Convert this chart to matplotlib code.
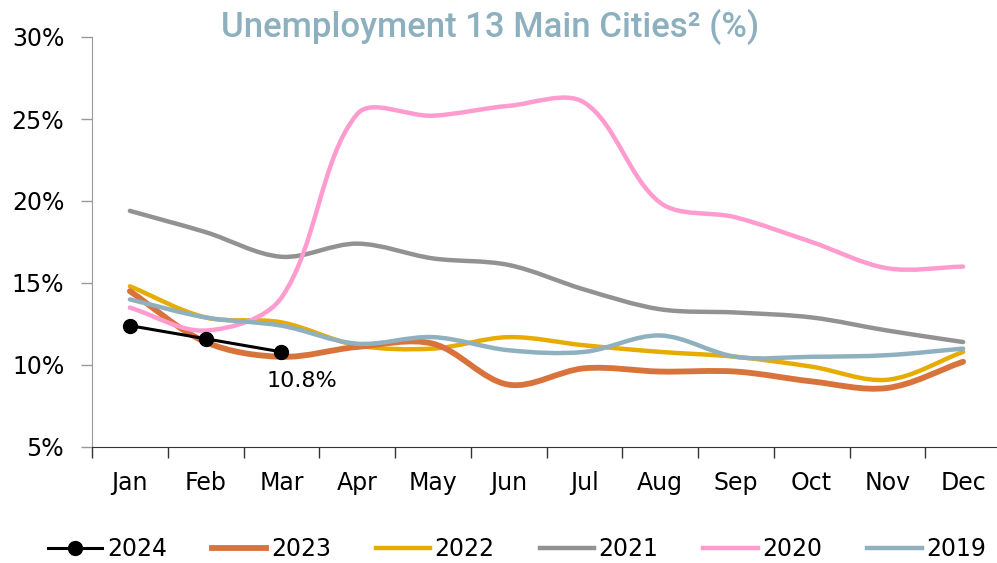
import numpy as np
import matplotlib
matplotlib.use('Agg')
import matplotlib.pyplot as plt
from matplotlib.path import Path
from matplotlib.patches import PathPatch
from matplotlib.lines import Line2D

plt.rcParams['font.family'] = ['DejaVu Sans']

months = ['Jan', 'Feb', 'Mar', 'Apr', 'May', 'Jun', 'Jul', 'Aug', 'Sep', 'Oct', 'Nov', 'Dec']

u2024 = [12.4, 11.6, 10.8]
u2023 = [14.5, 11.4, 10.5, 11.1, 11.3, 8.8, 9.8, 9.6, 9.6, 9.0, 8.6, 10.2]
u2022 = [14.8, 12.9, 12.6, 11.2, 11.0, 11.7, 11.2, 10.8, 10.5, 9.9, 9.1, 10.8]
u2021 = [19.4, 18.1, 16.6, 17.4, 16.5, 16.1, 14.6, 13.4, 13.2, 12.9, 12.1, 11.4]
u2020 = [13.5, 12.1, 14.1, 25.3, 25.2, 25.8, 26.0, 19.9, 19.0, 17.5, 15.9, 16.0]
u2019 = [14.0, 12.9, 12.4, 11.3, 11.7, 10.9, 10.8, 11.8, 10.5, 10.5, 10.6, 11.0]

c2024 = 'black'
c2023 = '#D9733C'
c2022 = '#E6AC00'
c2021 = '#929292'
c2020 = '#FF9BCF'
c2019 = '#8FB1BF'

# px per month and per percentage point, used to get chord lengths on screen
SX, SY = 75.8, 16.4


def smooth_path(x, y):
    # smoothed line: cubic Bezier segments, tangents scaled by chord length
    pts = np.column_stack([x, y]).astype(float)
    scr = pts * [SX, SY]
    n = len(pts)
    d = np.hypot(*np.diff(scr, axis=0).T)
    tang = np.zeros_like(scr)
    for i in range(n):
        a = scr[i - 1] if i > 0 else scr[i]
        b = scr[i + 1] if i < n - 1 else scr[i]
        da = d[i - 1] if i > 0 else 0
        db = d[i] if i < n - 1 else 0
        tang[i] = (b - a) / (da + db)
    verts = [pts[0]]
    codes = [Path.MOVETO]
    for i in range(n - 1):
        c1 = scr[i] + tang[i] * d[i] / 3
        c2 = scr[i + 1] - tang[i + 1] * d[i] / 3
        verts += [c1 / [SX, SY], c2 / [SX, SY], pts[i + 1]]
        codes += [Path.CURVE4] * 3
    return Path(verts, codes)


fig = plt.figure(figsize=(9.97, 5.63), dpi=100)
ax = fig.add_axes([92 / 997, 1 - 447 / 563, 909 / 997, 410 / 563])

x = np.arange(12)
series = [
    (u2022, c2022, 3.2, 2),
    (u2023, c2023, 4.2, 3),
    (u2021, c2021, 3.2, 4),
    (u2020, c2020, 3.2, 5),
    (u2019, c2019, 3.2, 6),
]
for vals, col, lw, z in series:
    p = smooth_path(x[:len(vals)], vals)
    ax.add_patch(PathPatch(p, facecolor='none', edgecolor=col, lw=lw,
                           capstyle='round', joinstyle='round', zorder=z))

ax.plot(x[:len(u2024)], u2024, color=c2024, lw=2.2, marker='o', ms=10, zorder=7)
ax.annotate('10.8%', (x[len(u2024) - 1], u2024[-1]), xytext=(15, -21),
            textcoords='offset points', ha='center', va='center', fontsize=16)

ax.set_xlim(-0.5, 11.5)
ax.set_ylim(5, 30)
ax.set_yticks(np.arange(5, 31, 5))
ax.set_yticklabels([f'{v}%' for v in range(5, 31, 5)], fontsize=17)
ax.set_xticks(x)
ax.set_xticklabels(months, fontsize=17)
ax.set_xticks(np.arange(-0.5, 12, 1), minor=True)
ax.tick_params(axis='x', which='major', length=0, pad=17)
ax.tick_params(axis='x', which='minor', length=8, color='#333333', width=1)
ax.tick_params(axis='y', length=8, color='#999999', width=1, pad=12)

for s in ['top', 'right']:
    ax.spines[s].set_visible(False)
ax.spines['left'].set_color('#999999')
ax.spines['bottom'].set_color('#333333')

fig.text(490 / 997, 1 - 27 / 563, 'Unemployment 13 Main Cities² (%)',
         ha='center', va='center', fontsize=25, color='#8DB0BF',
         family=['Roboto', 'DejaVu Sans'], weight='medium')

handles = [
    Line2D([], [], color=c2024, lw=2.2, marker='o', ms=10),
    Line2D([], [], color=c2023, lw=4.2),
    Line2D([], [], color=c2022, lw=3.2),
    Line2D([], [], color=c2021, lw=3.2),
    Line2D([], [], color=c2020, lw=3.2),
    Line2D([], [], color=c2019, lw=3.2),
]
labels = ['2024', '2023', '2022', '2021', '2020', '2019']
fig.legend(handles, labels, loc='center', bbox_to_anchor=(517 / 997, 1 - 549 / 563),
           ncol=6, frameon=False, fontsize=17, handlelength=2.3,
           handletextpad=0.2, columnspacing=1.9)

fig.savefig('out.png', dpi=100)
